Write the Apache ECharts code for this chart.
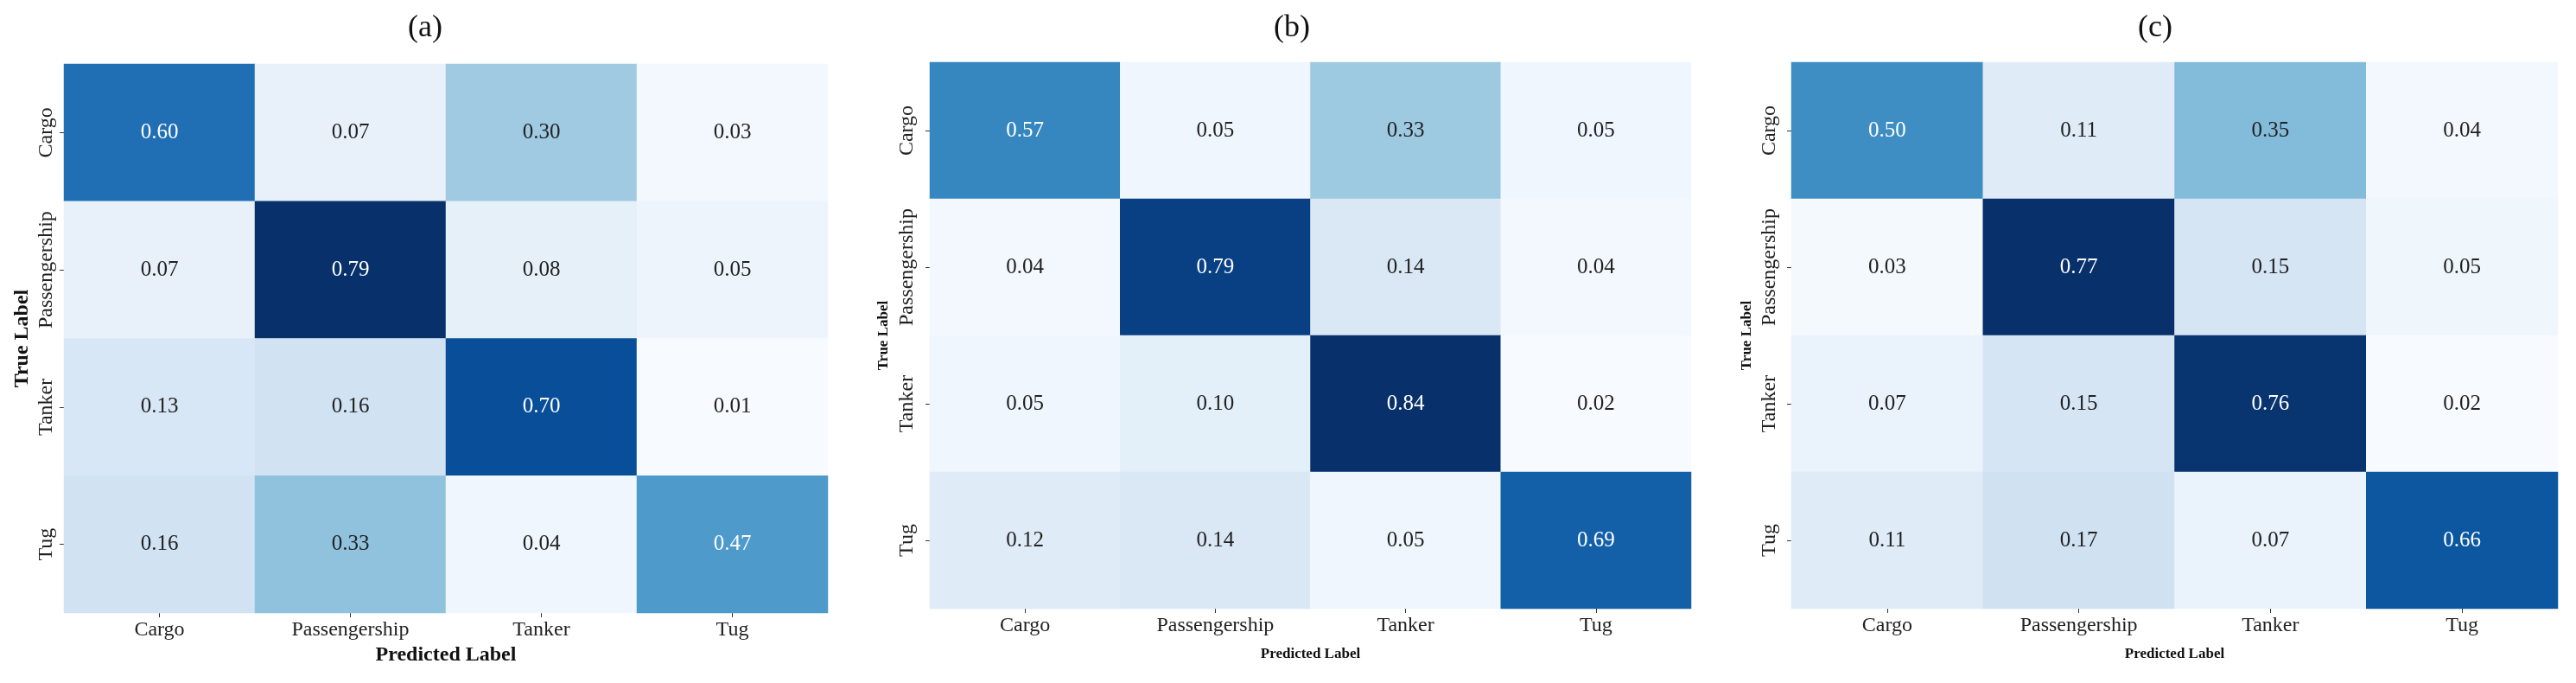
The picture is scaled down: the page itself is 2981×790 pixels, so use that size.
<!DOCTYPE html>
<html>
<head>
<meta charset="utf-8">
<script src="https://cdn.jsdelivr.net/npm/echarts@6/dist/echarts.min.js"></script>
<style>html,body{margin:0;padding:0;background:#fff}#c{width:2981px;height:790px}</style>
</head>
<body>
<div id="c"></div>
<script>
const classes = ['Cargo', 'Passengership', 'Tanker', 'Tug'];
const titles = ['(a)', '(b)', '(c)'];
const matrixA = [[0.60,0.07,0.30,0.03],[0.07,0.79,0.08,0.05],[0.13,0.16,0.70,0.01],[0.16,0.33,0.04,0.47]];
const matrixB = [[0.57,0.05,0.33,0.05],[0.04,0.79,0.14,0.04],[0.05,0.10,0.84,0.02],[0.12,0.14,0.05,0.69]];
const matrixC = [[0.50,0.11,0.35,0.04],[0.03,0.77,0.15,0.05],[0.07,0.15,0.76,0.02],[0.11,0.17,0.07,0.66]];
const matrices = [matrixA, matrixB, matrixC];

const blues = ['#f7fbff','#deebf7','#c6dbef','#9ecae1','#6baed6','#4292c6','#2171b5','#08519c','#08306b'];
const FONT = 'Liberation Serif';

const layout = [
  {left:74, top:74, width:884, height:635, titleX:487, nameSize:24, ylMargin:8, yNameGap:36, xNameGap:32},
  {left:1076, top:72, width:881, height:632, titleX:1490, nameSize:17, ylMargin:14, yNameGap:45, xNameGap:44},
  {left:2073, top:72, width:887, height:632, titleX:2489, nameSize:17, ylMargin:13, yNameGap:43, xNameGap:44}
];

const option = {
  animation:false,
  backgroundColor:'#fff',
  textStyle:{fontFamily:FONT},
  title:[], grid:[], xAxis:[], yAxis:[], visualMap:[], series:[]
};

matrices.forEach((m, i) => {
  const L = layout[i];
  const flat = m.flat();
  const vmin = Math.min(...flat), vmax = Math.max(...flat);
  option.title.push({text:titles[i], left:L.titleX, top:10, textAlign:'center',
    textStyle:{fontFamily:FONT, fontSize:36, fontWeight:'normal', color:'#111'}});
  option.grid.push({left:L.left, top:L.top, width:L.width, height:L.height});
  option.xAxis.push({type:'category', gridIndex:i, data:classes, position:'bottom',
    axisLine:{show:false}, splitArea:{show:false},
    axisTick:{show:true, alignWithLabel:true, length:5, lineStyle:{color:'#333'}},
    axisLabel:{interval:0, fontFamily:FONT, fontSize:24, color:'#222', margin:8},
    name:'Predicted Label', nameLocation:'middle', nameGap:L.xNameGap,
    nameTextStyle:{fontFamily:FONT, fontSize:L.nameSize, fontWeight:'bold', color:'#111'}});
  option.yAxis.push({type:'category', gridIndex:i, data:classes, inverse:true,
    axisLine:{show:false}, splitArea:{show:false},
    axisTick:{show:true, alignWithLabel:true, length:5, lineStyle:{color:'#333'}},
    axisLabel:{interval:0, hideOverlap:false, fontFamily:FONT, fontSize:24, color:'#222', rotate:90, margin:L.ylMargin,
      align:'center', verticalAlign:'bottom'},
    name:'True Label', nameLocation:'middle', nameGap:L.yNameGap,
    nameTextStyle:{fontFamily:FONT, fontSize:L.nameSize, fontWeight:'bold', color:'#111'}});
  option.visualMap.push({type:'continuous', show:false, seriesIndex:i, dimension:2,
    min:vmin, max:vmax, inRange:{color:blues}});
  const data = [];
  m.forEach((row, r) => row.forEach((v, c) => {
    const t = (v - vmin) / (vmax - vmin);
    data.push({value:[c, r, v], label:{color: t > 0.5 ? '#ffffff' : '#222222'}});
  }));
  option.series.push({type:'heatmap', xAxisIndex:i, yAxisIndex:i, data:data,
    label:{show:true, fontFamily:FONT, fontSize:25, formatter:p => p.value[2].toFixed(2)},
    itemStyle:{borderWidth:0}, emphasis:{disabled:true}});
});

const chart = echarts.init(document.getElementById('c'));
chart.setOption(option);
</script>
</body>
</html>
